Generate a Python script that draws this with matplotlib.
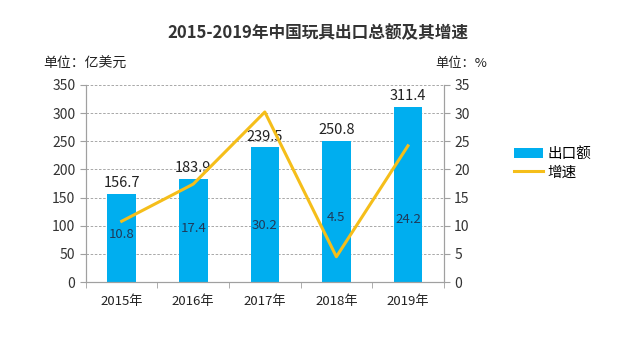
import matplotlib.pyplot as plt
import numpy as np

plt.rcParams['font.family'] = ['Noto Sans CJK SC', 'DejaVu Sans']

years = ["2015年", "2016年", "2017年", "2018年", "2019年"]
export = [156.7, 183.9, 239.5, 250.8, 311.4]
growth = [10.8, 17.4, 30.2, 4.5, 24.2]
growth_label_y = [8.4, 9.6, 10.1, 11.4, 11.2]

bar_color = "#00AEEF"
line_color = "#F5BE1A"
grid_color = "#9a9a9a"

fig = plt.figure(figsize=(6.18, 3.44), dpi=100)
ax = fig.add_axes((0.139, 0.180, 0.579, 0.573))
ax2 = ax.twinx()

x = np.arange(len(years))
bars = ax.bar(x, export, width=0.4, color=bar_color, label="出口额", zorder=2)
line, = ax2.plot(x, growth, color=line_color, lw=2.2, label="增速", zorder=3)

ax.set_xlim(-0.5, len(years) - 0.5)
ax.set_ylim(0, 350)
ax.set_yticks(np.arange(0, 351, 50))
ax2.set_ylim(0, 35)
ax2.set_yticks(np.arange(0, 36, 5))

ax.yaxis.grid(True, linestyle=(0, (3, 2)), color=grid_color, lw=0.6, zorder=0)
ax.set_axisbelow(True)

for s in ["top"]:
    ax.spines[s].set_visible(False)
    ax2.spines[s].set_visible(False)
for a in (ax, ax2):
    for s in ["left", "right", "bottom"]:
        a.spines[s].set_color("#a0a0a0")
        a.spines[s].set_linewidth(0.8)

ax.set_xticks(x)
ax.set_xticklabels(years, fontsize=9.5, color="#222222")
ax.set_xticks(np.arange(-0.5, len(years), 1), minor=True)
ax.tick_params(axis="x", which="major", length=0, pad=9)
ax.tick_params(axis="x", which="minor", length=4, color="#a0a0a0", direction="out")
ax.tick_params(axis="y", length=4, color="#a0a0a0", labelsize=10, labelcolor="#333333")
ax2.tick_params(axis="y", length=4, color="#a0a0a0", labelsize=10, labelcolor="#333333")

for xi, v in zip(x, export):
    ax.text(xi, v + 6, f"{v:.1f}", ha="center", va="bottom", fontsize=10.5, color="#222222")
for xi, g, ly in zip(x, growth, growth_label_y):
    ax2.text(xi, ly, f"{g:.1f}", ha="center", va="center", fontsize=9.5, color="#1f3a5a", zorder=4)

fig.text(0.515, 0.905, "2015-2019年中国玩具出口总额及其增速", ha="center", va="center",
         fontsize=12, fontweight="bold", color="#333333")
fig.text(0.070, 0.815, "单位：亿美元", ha="left", va="center", fontsize=10, color="#222222")
fig.text(0.704, 0.815, "单位：%", ha="left", va="center", fontsize=9.5, color="#222222")

fig.legend(handles=[bars, line], labels=["出口额", "增速"], loc="center left",
           bbox_to_anchor=(0.81, 0.525), frameon=False, fontsize=10.5,
           handlelength=2.0, handletextpad=0.3, labelspacing=0.3)

fig.savefig("out.png", dpi=100)
